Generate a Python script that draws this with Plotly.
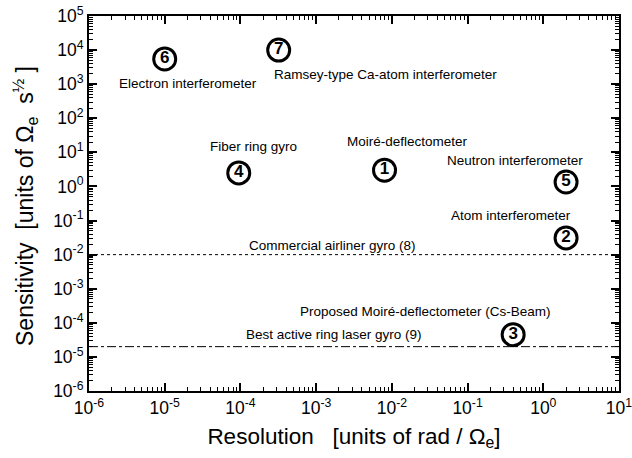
import plotly.graph_objects as go

# ---- data ----
point_ids = ["1", "2", "3", "4", "5", "6", "7"]
resolution = [8e-3, 2.0, 0.4, 9.5e-5, 2.0, 1.0e-5, 3.2e-4]
sensitivity = [3.0, 0.031, 4.5e-5, 2.5, 1.35, 5.5e3, 1.0e4]

label_texts = [
    "Electron interferometer",
    "Ramsey-type Ca-atom interferometer",
    "Fiber ring gyro",
    "Moiré-deflectometer",
    "Neutron interferometer",
    "Atom interferometer",
    "Commercial airliner gyro (8)",
    "Proposed Moiré-deflectometer (Cs-Beam)",
    "Best active ring laser gyro (9)",
]
label_log_x = [-4.69, -2.09, -3.83, -1.80, -0.37, -0.43, -2.79, -1.56, -2.76]
label_log_y = [3.01, 3.27, 1.16, 1.31, 0.75, -0.84, -1.72, -3.68, -4.35]

airliner_gyro_level = 1e-2
ring_laser_gyro_level = 2e-5
x_range_exp = [-6, 1]
y_range_exp = [-6, 5]

x_tick_exps = list(range(x_range_exp[0], x_range_exp[1] + 1))
y_tick_exps = list(range(y_range_exp[0], y_range_exp[1] + 1))

def minor_vals(lo, hi):
    return [k * 10.0 ** e for e in range(lo, hi) for k in range(2, 10)]

FONT = "Liberation Sans, Arial"

fig = go.Figure()

# reference lines
fig.add_trace(go.Scatter(
    x=[10.0 ** x_range_exp[0], 10.0 ** x_range_exp[1]],
    y=[airliner_gyro_level, airliner_gyro_level],
    mode="lines", line=dict(color="black", width=1, dash="dot"),
    hoverinfo="skip", showlegend=False))
fig.add_trace(go.Scatter(
    x=[10.0 ** x_range_exp[0], 10.0 ** x_range_exp[1]],
    y=[ring_laser_gyro_level, ring_laser_gyro_level],
    mode="lines", line=dict(color="black", width=1, dash="dashdot"),
    hoverinfo="skip", showlegend=False))

# circled numbers
fig.add_trace(go.Scatter(
    x=resolution, y=sensitivity, mode="markers+text",
    text=["<b>%s</b>" % p for p in point_ids],
    textposition="middle center",
    textfont=dict(family=FONT, size=17, color="black"),
    marker=dict(symbol="circle", size=22, color="white",
                line=dict(color="black", width=3)),
    showlegend=False))

# invisible trace on the minor-tick overlay axes
fig.add_trace(go.Scatter(
    x=[10.0 ** x_range_exp[0]], y=[10.0 ** y_range_exp[0]],
    xaxis="x2", yaxis="y2", mode="markers",
    marker=dict(opacity=0), hoverinfo="skip", showlegend=False))

for t, lx, ly in zip(label_texts, label_log_x, label_log_y):
    fig.add_annotation(x=lx, y=ly, xref="x", yref="y", text=t,
                       showarrow=False,
                       font=dict(family=FONT, size=13.5, color="black"))

# y-axis title as a rotated annotation (placed further left than plotly allows)
fig.add_annotation(
    x=-0.121, y=0.493, xref="paper", yref="paper",
    text="Sensitivity  [units of Ω<sub>e</sub>  s<sup>½</sup> ]",
    textangle=-90, showarrow=False, xanchor="center", yanchor="middle",
    font=dict(family=FONT, size=23, color="black"))

axis_common = dict(
    type="log", showgrid=False, zeroline=False, automargin=False,
    showline=True, linecolor="black", linewidth=2, mirror="allticks",
    ticks="inside", ticklen=8, tickwidth=1.5, tickcolor="black",
    ticklabeloverflow="allow",
    tickfont=dict(family=FONT, size=17.5, color="black"),
)

fig.update_layout(
    xaxis=dict(
        **axis_common,
        range=x_range_exp,
        tickmode="array",
        tickvals=[10.0 ** e for e in x_tick_exps],
        ticktext=["10<sup>%d</sup>" % e for e in x_tick_exps],
        title=dict(text="Resolution   [units of rad / Ω<sub>e</sub>]",
                   font=dict(family=FONT, size=22.5, color="black"),
                   standoff=11),
    ),
    yaxis=dict(
        **axis_common,
        range=y_range_exp,
        tickmode="array",
        tickvals=[10.0 ** e for e in y_tick_exps],
        ticktext=["10<sup>%d</sup>" % e for e in y_tick_exps],
    ),
    xaxis2=dict(
        type="log", range=x_range_exp, overlaying="x", anchor="y2",
        showgrid=False, zeroline=False, showticklabels=False,
        showline=False, mirror="allticks", automargin=False,
        tickmode="array", tickvals=minor_vals(*x_range_exp),
        ticks="inside", ticklen=4, tickwidth=1, tickcolor="black",
    ),
    yaxis2=dict(
        type="log", range=y_range_exp, overlaying="y", anchor="x2",
        showgrid=False, zeroline=False, showticklabels=False,
        showline=False, mirror="allticks", automargin=False,
        tickmode="array", tickvals=minor_vals(*y_range_exp),
        ticks="inside", ticklen=4, tickwidth=1, tickcolor="black",
    ),
    width=632, height=458,
    margin=dict(l=89, r=13, t=16, b=67),
    paper_bgcolor="white", plot_bgcolor="white",
    showlegend=False,
)

fig.write_html("out.html")
